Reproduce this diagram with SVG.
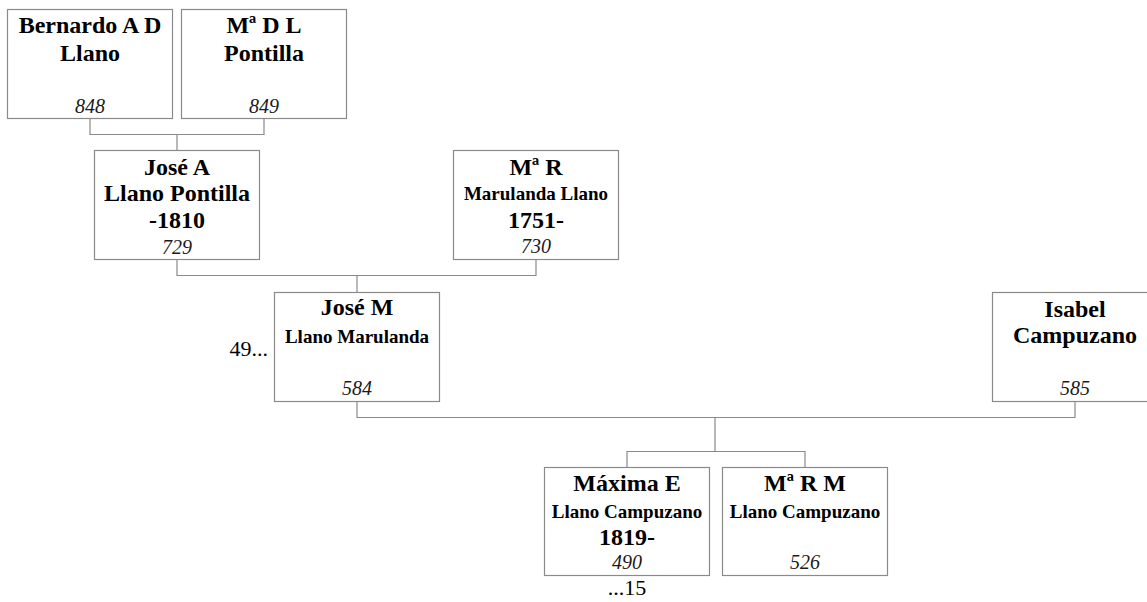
<svg xmlns="http://www.w3.org/2000/svg" width="1147" height="602" viewBox="0 0 1147 602">
<style>
.box{fill:#fff;stroke:#8a8a8a;stroke-width:1.2}
.con{fill:none;stroke:#8a8a8a;stroke-width:1.2}
text{font-family:'Liberation Serif','DejaVu Serif',serif;fill:#000;text-anchor:middle}
.b{font-weight:bold;font-size:24px}
.s{font-weight:bold;font-size:19px}
.n{font-style:italic;font-size:20px;fill:#1a1a1a}
.r{font-size:22px}
</style>
<rect width="1147" height="602" fill="#fff"/>
<g id="connectors">
<path class="con" d="M90 118.5V134.5H264V118.5M177 134.5V150.5"/>
<path class="con" d="M177 259.5V275.5H536V259.5M357 275.5V292.5"/>
<path class="con" d="M357 401.5V417.5H1075V401.5M715 417.5V451.5M627 467.5V451.5H805V467.5"/>
</g>
<g id="n848">
<rect class="box" x="7.5" y="9.5" width="165" height="109"/>
<text class="b" x="90" y="32.5" font-family="Liberation Serif">Bernardo A D</text>
<text class="b" x="90" y="60.5">Llano</text>
<text class="n" x="90" y="113">848</text>
</g>
<g id="n849">
<rect class="box" x="181.5" y="9.5" width="165" height="109"/>
<text class="b" x="264" y="32.5">Mª D L</text>
<text class="b" x="264" y="60.5">Pontilla</text>
<text class="n" x="264" y="113">849</text>
</g>
<g id="n729">
<rect class="box" x="94.5" y="150.5" width="165" height="109"/>
<text class="b" x="177" y="175">José A</text>
<text class="b" x="177" y="201">Llano Pontilla</text>
<text class="b" x="177" y="227.5">-1810</text>
<text class="n" x="177" y="253.5">729</text>
</g>
<g id="n730">
<rect class="box" x="453.5" y="150.5" width="165" height="109"/>
<text class="b" x="536" y="175">Mª R</text>
<text class="s" x="536" y="200">Marulanda Llano</text>
<text class="b" x="536" y="227.5">1751-</text>
<text class="n" x="536" y="253">730</text>
</g>
<g id="n584">
<rect class="box" x="274.5" y="292.5" width="165" height="109"/>
<text class="b" x="357" y="315">José M</text>
<text class="s" x="357" y="343">Llano Marulanda</text>
<text class="n" x="357" y="395">584</text>
<text class="r" x="268" y="356" style="text-anchor:end">49...</text>
</g>
<g id="n585">
<rect class="box" x="992.5" y="292.5" width="165" height="109"/>
<text class="b" x="1075" y="316.5">Isabel</text>
<text class="b" x="1075" y="342.5">Campuzano</text>
<text class="n" x="1075" y="395">585</text>
</g>
<g id="n490">
<rect class="box" x="544.5" y="467.5" width="165" height="108"/>
<text class="b" x="627" y="491">Máxima E</text>
<text class="s" x="627" y="518">Llano Campuzano</text>
<text class="b" x="627" y="544.5">1819-</text>
<text class="n" x="627" y="568.5">490</text>
<text class="r" x="627" y="595">...15</text>
</g>
<g id="n526">
<rect class="box" x="722.5" y="467.5" width="165" height="108"/>
<text class="b" x="805" y="491">Mª R M</text>
<text class="s" x="805" y="518">Llano Campuzano</text>
<text class="n" x="805" y="568.5">526</text>
</g>
</svg>
